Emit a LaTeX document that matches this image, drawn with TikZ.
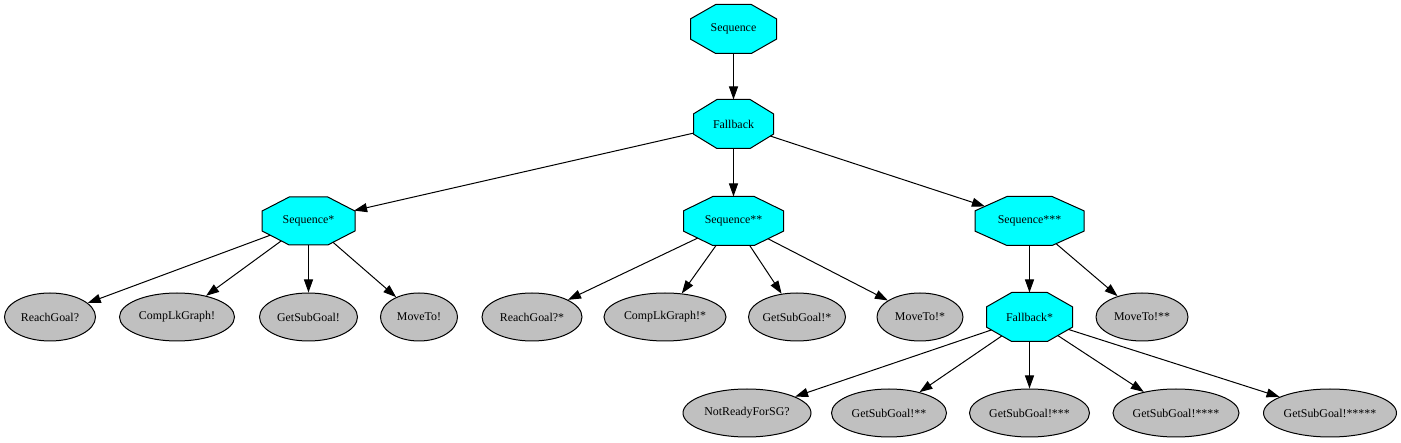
\documentclass[tikz,border=0pt]{standalone}
\usepackage{fontspec}
\setmainfont{Liberation Serif}
\usepackage{tikz}
\usetikzlibrary{shapes.geometric,arrows.meta}
\definecolor{octfill}{RGB}{0,255,255}
\definecolor{leaffill}{RGB}{192,192,192}

% stretched octagon as drawn by dot
\makeatletter
\pgfdeclareshape{octagon}{%
  \inheritsavedanchors[from=rectangle]%
  \inheritanchor[from=rectangle]{center}%
  \inheritanchor[from=rectangle]{text}%
  \inheritanchor[from=rectangle]{base}%
  \inheritanchor[from=rectangle]{mid}%
  \inheritanchor[from=rectangle]{north}%
  \inheritanchor[from=rectangle]{south}%
  \inheritanchor[from=rectangle]{east}%
  \inheritanchor[from=rectangle]{west}%
  \backgroundpath{%
    \southwest \edef\oct@xa{\the\pgf@x}\edef\oct@ya{\the\pgf@y}%
    \northeast \edef\oct@xb{\the\pgf@x}\edef\oct@yb{\the\pgf@y}%
    \pgf@xc=\dimexpr\oct@xb-\oct@xa\relax \pgf@xc=0.29289\pgf@xc
    \pgf@yc=\dimexpr\oct@yb-\oct@ya\relax \pgf@yc=0.29289\pgf@yc
    \edef\oct@cx{\the\pgf@xc}\edef\oct@cy{\the\pgf@yc}%
    \pgfpathmoveto{\pgfqpoint{\dimexpr\oct@xa+\oct@cx\relax}{\oct@yb}}%
    \pgfpathlineto{\pgfqpoint{\dimexpr\oct@xb-\oct@cx\relax}{\oct@yb}}%
    \pgfpathlineto{\pgfqpoint{\oct@xb}{\dimexpr\oct@yb-\oct@cy\relax}}%
    \pgfpathlineto{\pgfqpoint{\oct@xb}{\dimexpr\oct@ya+\oct@cy\relax}}%
    \pgfpathlineto{\pgfqpoint{\dimexpr\oct@xb-\oct@cx\relax}{\oct@ya}}%
    \pgfpathlineto{\pgfqpoint{\dimexpr\oct@xa+\oct@cx\relax}{\oct@ya}}%
    \pgfpathlineto{\pgfqpoint{\oct@xa}{\dimexpr\oct@ya+\oct@cy\relax}}%
    \pgfpathlineto{\pgfqpoint{\oct@xa}{\dimexpr\oct@yb-\oct@cy\relax}}%
    \pgfpathclose
  }%
  \anchorborder{%
    \edef\oct@dx{\pgf@sys@tonumber\pgf@x}\edef\oct@dy{\pgf@sys@tonumber\pgf@y}%
    \southwest \edef\oct@xa{\pgf@sys@tonumber\pgf@x}\edef\oct@ya{\pgf@sys@tonumber\pgf@y}%
    \northeast \edef\oct@xb{\pgf@sys@tonumber\pgf@x}\edef\oct@yb{\pgf@sys@tonumber\pgf@y}%
    \pgfmathsetmacro\oct@w{((\oct@xb)-(\oct@xa))/2}%
    \pgfmathsetmacro\oct@h{((\oct@yb)-(\oct@ya))/2}%
    \pgfmathsetmacro\oct@m{max(abs(\oct@dx),abs(\oct@dy),0.0001)}%
    \pgfmathsetmacro\oct@ux{(\oct@dx)/\oct@m}%
    \pgfmathsetmacro\oct@uy{(\oct@dy)/\oct@m}%
    \pgfmathsetmacro\oct@t{min(\oct@h/max(abs(\oct@uy),0.01),\oct@w/max(abs(\oct@ux),0.01),1.41421*\oct@w*\oct@h/(\oct@h*abs(\oct@ux)+\oct@w*abs(\oct@uy)))}%
    \pgfmathsetmacro\oct@px{((\oct@xa)+(\oct@xb))/2+\oct@t*(\oct@ux)}%
    \pgfmathsetmacro\oct@py{((\oct@ya)+(\oct@yb))/2+\oct@t*(\oct@uy)}%
    \pgf@x=\oct@px pt\relax \pgf@y=\oct@py pt\relax
  }%
}
\makeatother

\begin{document}
\begin{tikzpicture}[x=1pt,y=-1pt,line width=1pt,>={Triangle[length=13pt,width=9pt]},
    every node/.style={font=\fontsize{11.9}{14}\selectfont, draw=black, inner sep=0pt},
    oct/.style 2 args={shape=octagon, fill=octfill, minimum width=#1, minimum height=#2},
    leaf/.style={ellipse, fill=leaffill, minimum width=#1, minimum height=48, inner xsep=-8pt}]
    \useasboundingbox (0,0) rectangle (1401,443);

    % control nodes
    \node[oct={85}{48}] (seq) at (733.5,29) {Sequence};
    \node[oct={79}{48}] (fb) at (733.5,124) {Fallback};
    \node[oct={92}{47}] (seqA) at (308.5,221) {Sequence*};
    \node[oct={99}{48}] (seqB) at (733.5,221) {Sequence**};
    \node[oct={108}{48}] (seqC) at (1029.5,221) {Sequence***};
    \node[oct={85}{48}] (fbA) at (1029.5,317) {Fallback*};

    % leaves
    \node[leaf=91] (rgA) at (50,317) {ReachGoal?};
    \node[leaf=115] (clA) at (177,317) {CompLkGraph!};
    \node[leaf=98] (gsA) at (308.5,317) {GetSubGoal!};
    \node[leaf=77] (mtA) at (419,317) {MoveTo!};
    \node[leaf=100] (rgB) at (532,317) {ReachGoal?*};
    \node[leaf=122] (clB) at (665,317) {CompLkGraph!*};
    \node[leaf=97] (gsB) at (797,317) {GetSubGoal!*};
    \node[leaf=86] (mtB) at (920,317) {MoveTo!*};
    \node[leaf=92] (mtC) at (1142,317) {MoveTo!**};
    \node[leaf=128] (nr) at (747,413) {NotReadyForSG?};
    \node[leaf=115] (gsC) at (889,413) {GetSubGoal!**};
    \node[leaf=120] (gsD) at (1029.5,413) {GetSubGoal!***};
    \node[leaf=126] (gsE) at (1176,413) {GetSubGoal!****};
    \node[leaf=133] (gsF) at (1330,413) {GetSubGoal!*****};

    \draw[->] (seq) -- (fb);
    \foreach \t in {seqA,seqB,seqC} {
        \draw[->] (fb) -- (\t);
    }
    \foreach \t in {rgA,clA,gsA,mtA} {
        \draw[->] (seqA) -- (\t);
    }
    \foreach \t in {rgB,clB,gsB,mtB} {
        \draw[->] (seqB) -- (\t);
    }
    \draw[->] (seqC) -- (fbA);
    \draw[->] (seqC) -- (mtC);
    \foreach \t in {nr,gsC,gsD,gsE,gsF} {
        \draw[->] (fbA) -- (\t);
    }
\end{tikzpicture}
\end{document}
